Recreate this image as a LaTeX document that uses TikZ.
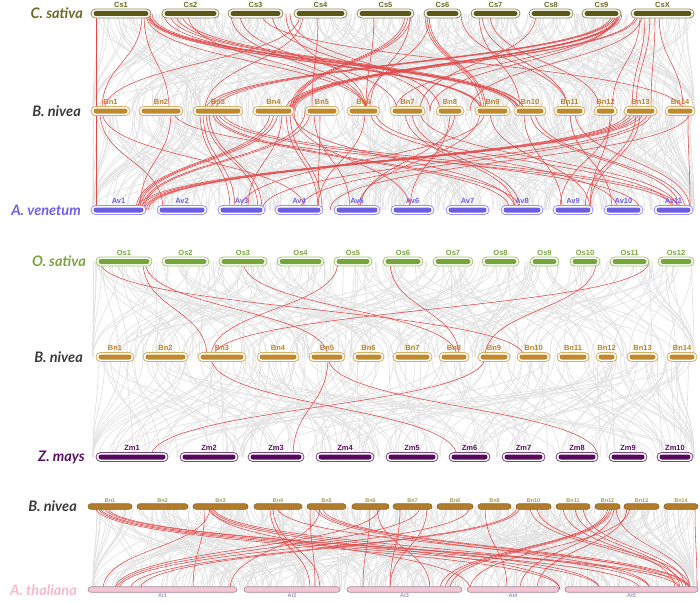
\documentclass[tikz,border=0pt]{standalone}
\usepackage{fontspec}
\setmainfont{Liberation Sans}
\newfontfamily\speciesfont{Lato}
\usepackage{tikz}
\usetikzlibrary{shapes.misc}
\definecolor{csline}{HTML}{8E8B56}
\definecolor{csfill}{HTML}{5C5916}
\definecolor{cstext}{HTML}{6B6A25}
\definecolor{bnline}{HTML}{D8AE62}
\definecolor{bnfill}{HTML}{BE8A2D}
\definecolor{bntext}{HTML}{B8852B}
\definecolor{bnname}{HTML}{3A3A3A}
\definecolor{avline}{HTML}{9A90F2}
\definecolor{avfill}{HTML}{6D5DE0}
\definecolor{avtext}{HTML}{6E60E6}
\definecolor{osline}{HTML}{9EC46C}
\definecolor{osfill}{HTML}{76A53A}
\definecolor{ostext}{HTML}{79A63C}
\definecolor{zmline}{HTML}{7C4282}
\definecolor{zmfill}{HTML}{560A5E}
\definecolor{zmtext}{HTML}{5A1262}
\definecolor{bbfill}{HTML}{B27C2A}
\definecolor{bbline}{HTML}{8A6424}
\definecolor{bbtext}{HTML}{A59A48}
\definecolor{atfill}{HTML}{F3C5D5}
\definecolor{atline}{HTML}{A48C9A}
\definecolor{attext}{HTML}{A193C7}
\definecolor{atname}{HTML}{F3B9CE}
\definecolor{linkred}{HTML}{E24848}
\definecolor{linkgray}{HTML}{E2E2E2}
\tikzstyle{gray link}=[draw=linkgray,line width=0.7pt]
\tikzstyle{red link}=[draw=linkred,line width=0.55pt]
\newcommand{\synlink}[5]{\draw[#1] (#2,#3) .. controls (#2,{(#3+#5)/2}) and (#4,{(#3+#5)/2}) .. (#4,#5);}
\begin{document}
\begin{tikzpicture}[
  x=1pt,y=-1pt,
  chrbox/.style={rounded rectangle,draw=#1,fill=white,line width=0.8pt,minimum height=9pt,inner sep=0pt},
  chrbar/.style={rounded rectangle,fill=#1,minimum height=5pt,inner sep=0pt},
  flatbar/.style 2 args={rounded rectangle,fill=#1,draw=#2,line width=0.6pt,minimum height=5.5pt,inner sep=0pt},
  chrlabel/.style={font=\bfseries\fontsize{7.5}{7.5}\selectfont,text=#1,inner sep=1pt},
  smalllabel/.style={font=\bfseries\fontsize{5.5}{5.5}\selectfont,text=#1,inner sep=1pt},
  species/.style={font=\speciesfont\bfseries\itshape\fontsize{14.5}{14.5}\selectfont,text=#1,anchor=east,inner sep=0pt},
]
\useasboundingbox (0,0) rectangle (700,602);

% background links
\pgfmathsetseed{17}
\foreach \ya/\yb/\cnt/\far in {14/111/260/60,111/210/280/60,261.5/357/170/40,357/457/150/40,506.5/589.5/300/60}{
  \foreach \i in {1,...,\cnt}{
    \pgfmathsetmacro\a{93+600*rnd}
    \pgfmathsetmacro\b{max(93,min(694,\a+280*(rnd-0.5)))}
    \synlink{gray link}{\a}{\ya}{\b}{\yb}
  }
  \foreach \i in {1,...,\far}{
    \pgfmathsetmacro\a{93+600*rnd}
    \pgfmathsetmacro\b{93+600*rnd}
    \synlink{gray link}{\a}{\ya}{\b}{\yb}
  }
}

% C. sativa - B. nivea
\foreach \a/\b in {96/96,142/102,144/169,146/366,147/481,148/516,149/520,150/483,152/524,
  164/481,170/518,176/519,182/524,188/366,231/366,240/397,272/430,262/683,
  300/104,303/205,318/312,286/366,290/440,374/366,405/290,408/292,411/294,410/370,
  425/481,427/484,429/486,430/366,461/568,479/520,482/568,490/600,536/420,
  612/205,614/210,616/215,618/285,620/288,622/291,619/293,615/430,617/395,
  636/290,638/295,640/612,645/632,650/636,655/651,659/683,642/470}
  \synlink{red link}{\a}{14}{\b}{111};

% B. nivea - A. venetum
\foreach \a/\b in {96/96,100/163,102/305,171/140,173/675,
  200/230,203/235,206/258,209/262,212/510,215/520,218/640,222/680,
  270/136,274/138,278/140,282/248,286/318,290/322,294/410,292/515,
  305/142,310/144,314/350,320/318,365/318,370/618,375/672,
  405/515,412/520,420/678,450/410,455/360,480/358,485/240,490/590,
  524/562,530/680,535/685,570/612,575/690,610/590,612/560,
  628/136,632/140,636/144,640/146,644/148,648/262,652/300,636/585,640/590,
  688/690,690/330}
  \synlink{red link}{\a}{111}{\b}{210};

% O. sativa - B. nivea - Z. mays
\foreach \a/\b in {100/524,143/207,145/328,243/457,338/211,390/459,596/485,649/213}
  \synlink{red link}{\a}{261.5}{\b}{357};
\foreach \a/\b in {211/457,328/293,328/598,485/151}
  \synlink{red link}{\a}{357}{\b}{457};

% B. nivea - A. thaliana
\foreach \a/\b in {95/560,98/600,100/640,104/680,107/690,210/103,380/115,420/117,470/119,
  205/193,208/560,211/600,213/650,210/470,320/230,273/320,277/690,270/310,
  310/315,315/650,318/680,322/690,370/363,377/430,400/390,427/390,485/507,
  517/130,520/140,530/683,537/690,563/675,575/680,583/686,
  608/440,610/445,612/450,614/520,616/690,627/537,630/470,695/697}
  \synlink{red link}{\a}{506.5}{\b}{589.5};

% chromosomes
\foreach \n/\a/\b in {Cs1/91/151,Cs2/162/219,Cs3/228/283,Cs4/294/347,Cs5/357/414,
  Cs6/424/461,Cs7/471/520,Cs8/529/573,Cs9/582/621,CsX/631/694}{
  \pgfmathsetmacro\w{\b-\a}
  \pgfmathsetmacro\c{(\a+\b)/2}
  \node[chrbox=csline,minimum width=\w pt,label={[chrlabel=cstext]above:\n}] (cs-\n) at (\c,13.5) {};
  \node[chrbar=csfill,minimum width=\w pt-5pt] at (cs-\n) {};
}
\foreach \n/\a/\b in {Bn1/91/130,Bn2/139/183,Bn3/193/243,Bn4/253/294,Bn5/305/339,
  Bn6/347/380,Bn7/390/425,Bn8/436/464,Bn9/475/510,Bn10/514/546,Bn11/554/585,
  Bn12/594/617,Bn13/624/657,Bn14/665/695}{
  \pgfmathsetmacro\w{\b-\a}
  \pgfmathsetmacro\c{(\a+\b)/2}
  \node[chrbox=bnline,minimum width=\w pt,label={[chrlabel=bntext]above:\n}] (bna-\n) at (\c,111) {};
  \node[chrbar=bnfill,minimum width=\w pt-5pt] at (bna-\n) {};
}
\foreach \n/\a/\b in {Av1/91/146,Av2/157/207,Av3/218/265,Av4/275/323,Av5/334/380,
  Av6/391/434,Av7/446/489,Av8/501/543,Av9/553/593,Av10/604/643,Av11/654/693}{
  \pgfmathsetmacro\w{\b-\a}
  \pgfmathsetmacro\c{(\a+\b)/2}
  \node[chrbox=avline,minimum width=\w pt,label={[chrlabel=avtext]above:\n}] (av-\n) at (\c,210) {};
  \node[chrbar=avfill,minimum width=\w pt-5pt] at (av-\n) {};
}
\foreach \n/\a/\b in {Os1/96/152,Os2/162/209,Os3/219/267,Os4/277/324,Os5/334/372,
  Os6/383/423,Os7/433/473,Os8/482/519,Os9/530/559,Os10/570/600,Os11/610/649,Os12/658/694}{
  \pgfmathsetmacro\w{\b-\a}
  \pgfmathsetmacro\c{(\a+\b)/2}
  \node[chrbox=osline,minimum width=\w pt,label={[chrlabel=ostext]above:\n}] (os-\n) at (\c,261.5) {};
  \node[chrbar=osfill,minimum width=\w pt-5pt] at (os-\n) {};
}
\foreach \n/\a/\b in {Bn1/96/134,Bn2/143/188,Bn3/198/246,Bn4/257/299,Bn5/309/345,
  Bn6/353/384,Bn7/393/432,Bn8/439/469,Bn9/478/510,Bn10/517/550,Bn11/557/589,
  Bn12/596/617,Bn13/627/658,Bn14/667/697}{
  \pgfmathsetmacro\w{\b-\a}
  \pgfmathsetmacro\c{(\a+\b)/2}
  \node[chrbox=bnline,minimum width=\w pt,label={[chrlabel=bntext]above:\n}] (bnb-\n) at (\c,357) {};
  \node[chrbar=bnfill,minimum width=\w pt-5pt] at (bnb-\n) {};
}
\foreach \n/\a/\b in {Zm1/96/168,Zm2/180/238,Zm3/248/304,Zm4/316/374,Zm5/386/438,
  Zm6/449/490,Zm7/502/545,Zm8/556/598,Zm9/609/647,Zm10/657/693}{
  \pgfmathsetmacro\w{\b-\a}
  \pgfmathsetmacro\c{(\a+\b)/2}
  \node[chrbox=zmline,minimum width=\w pt,label={[chrlabel=zmtext]above:\n}] (zm-\n) at (\c,457) {};
  \node[chrbar=zmfill,minimum width=\w pt-5pt] at (zm-\n) {};
}
\foreach \n/\a/\b in {Bn1/88/132,Bn2/137/188,Bn3/193/248,Bn4/254/302,Bn5/307/346,
  Bn6/352/389,Bn7/393/432,Bn8/437/473,Bn9/478/511,Bn10/516/551,Bn11/556/590,
  Bn12/595/620,Bn13/624/659,Bn14/664/698}{
  \pgfmathsetmacro\w{\b-\a}
  \pgfmathsetmacro\c{(\a+\b)/2}
  \node[flatbar={bbfill}{bbline},minimum width=\w pt,label={[smalllabel=bbtext]above:\n}] (bnc-\n) at (\c,506.5) {};
}
\foreach \n/\a/\b in {At1/88/237,At2/244/340,At3/347/462,At4/467/559,At5/565/698}{
  \pgfmathsetmacro\w{\b-\a}
  \pgfmathsetmacro\c{(\a+\b)/2}
  \node[flatbar={atfill}{atline},minimum width=\w pt,label={[smalllabel=attext]below:\n}] (at-\n) at (\c,589.5) {};
}

% species names
\node[species=cstext] (csname) at (83,13.5) {C. sativa};
\node[species=bnname] (bnaname) at (81,111) {B. nivea};
\node[species=avtext] (avname) at (81,210) {A. venetum};
\node[species=ostext] (osname) at (86,261.5) {O. sativa};
\node[species=bnname] (bnbname) at (83,357) {B. nivea};
\node[species=zmtext] (zmname) at (85,457) {Z. mays};
\node[species=bnname] (bncname) at (77,506) {B. nivea};
\node[species=atname] (atname) at (77,590) {A. thaliana};
\end{tikzpicture}
\end{document}
